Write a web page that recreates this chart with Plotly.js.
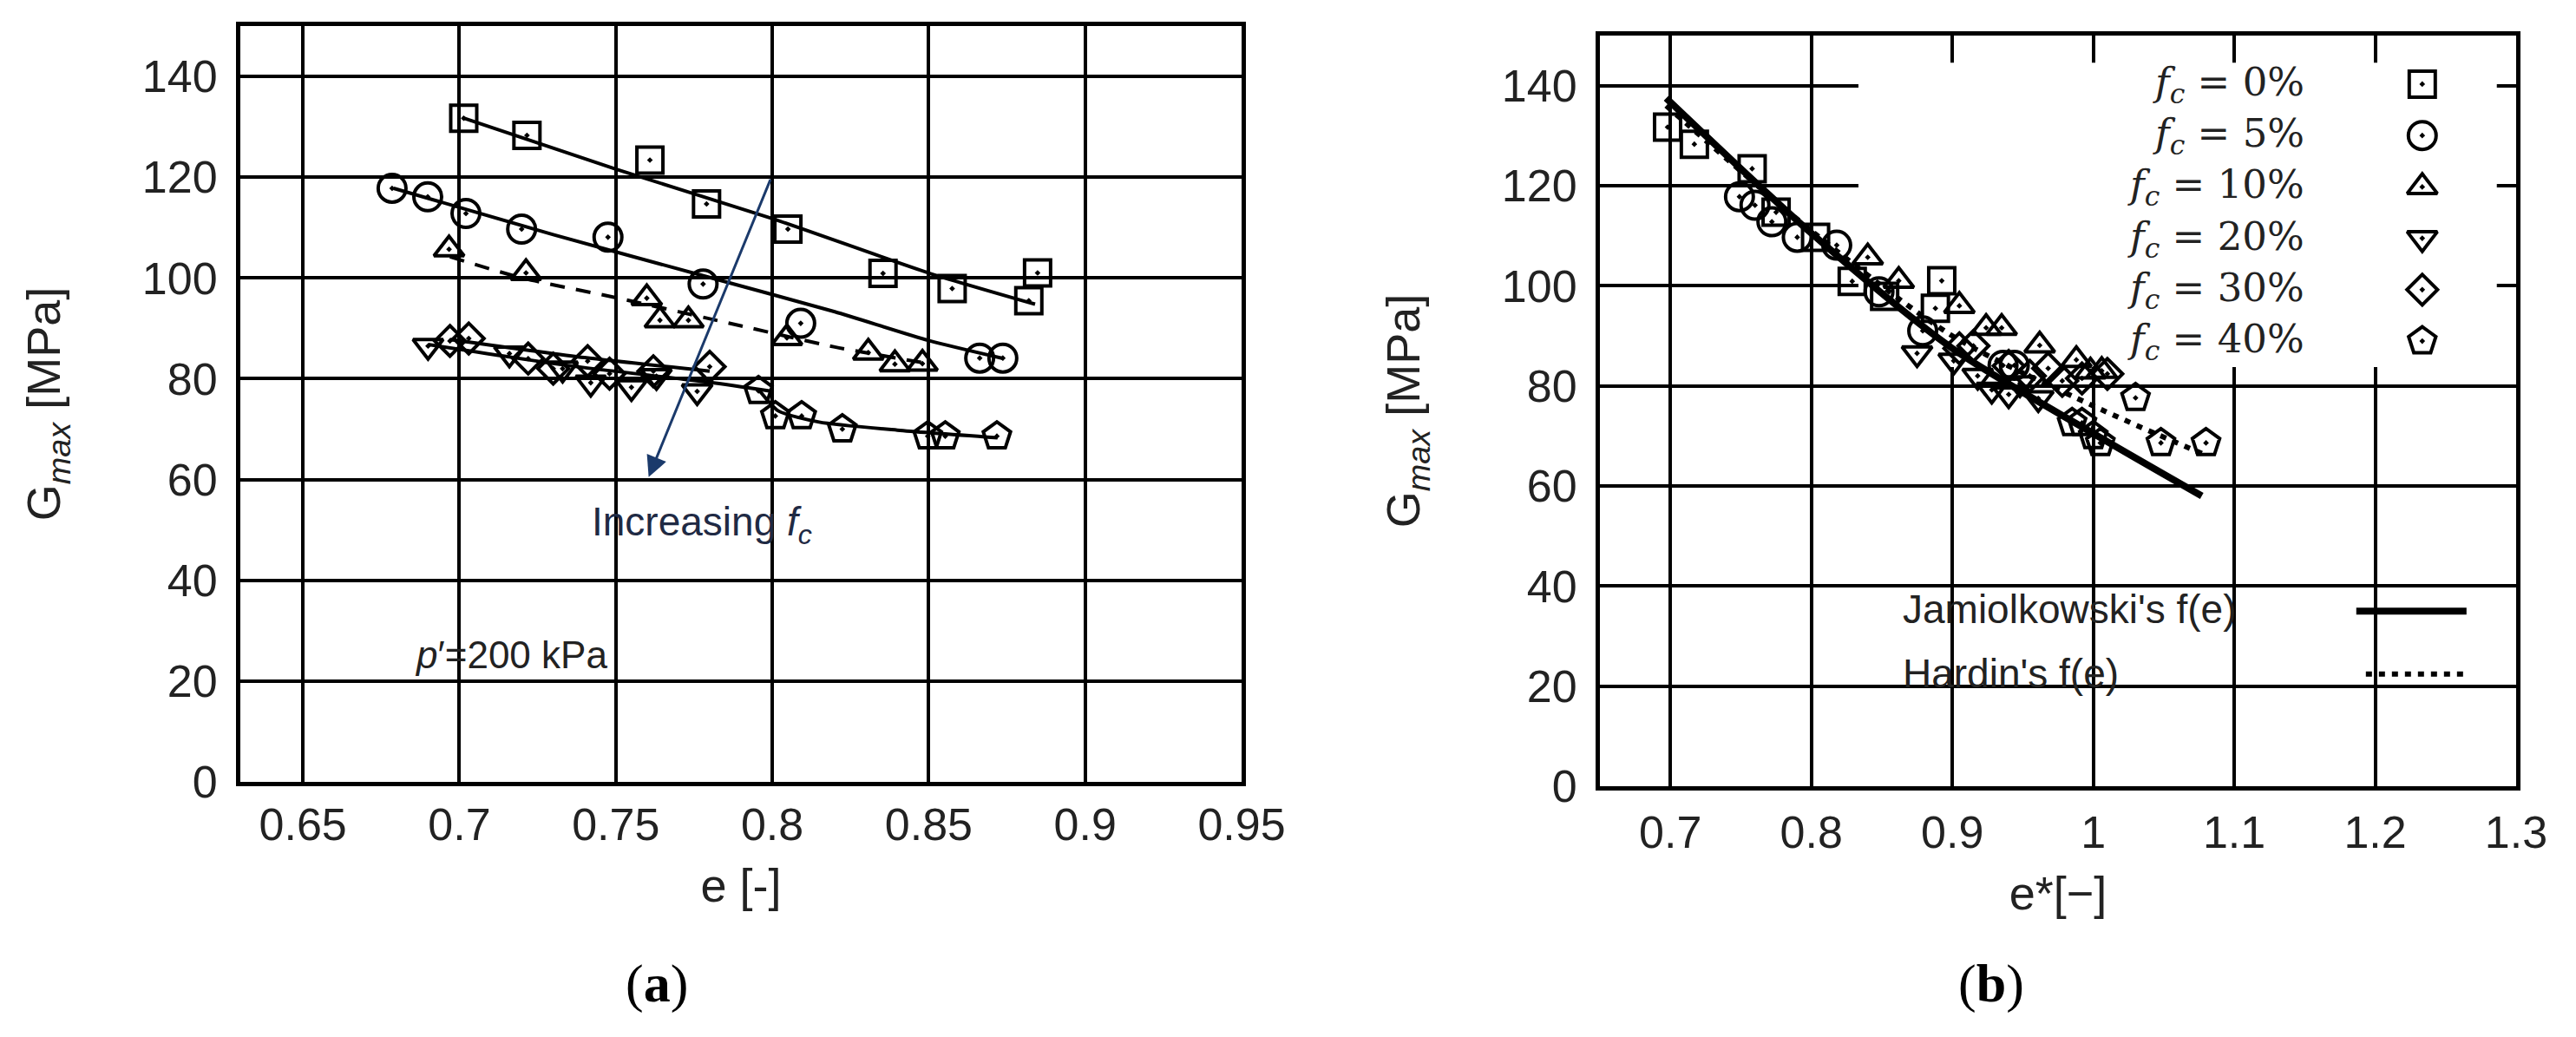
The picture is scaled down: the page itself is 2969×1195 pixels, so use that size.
<!DOCTYPE html>
<html><head><meta charset="utf-8">
<script src="https://cdn.plot.ly/plotly-3.0.1.min.js"></script>
<style>html,body{margin:0;padding:0;background:#fff}#chart{width:2969px;height:1195px}</style>
</head><body><div id="chart"></div><script>
// ---------------- data: panel (a)  Gmax vs e ----------------
const fc0_e  = [0.7014, 0.7216, 0.7609, 0.7790, 0.8050, 0.8354, 0.8575, 0.8848, 0.8820];
const fc0_G  = [131.7, 128.3, 123.4, 114.7, 109.7, 100.9, 97.9, 101.0, 95.5];
const fc5_e  = [0.6785, 0.6899, 0.7021, 0.7199, 0.7475, 0.7779, 0.8091, 0.8663, 0.8737];
const fc5_G  = [117.8, 116.1, 112.8, 109.7, 108.1, 98.8, 91.0, 84.1, 84.1];
const fc10_e = [0.6967, 0.7213, 0.7599, 0.7641, 0.7732, 0.8047, 0.8307, 0.8392, 0.8480];
const fc10_G = [105.7, 101.0, 96.0, 91.6, 91.6, 88.1, 85.2, 82.9, 83.0];
const fc20_e = [0.6900, 0.7160, 0.7330, 0.7420, 0.7550, 0.7630, 0.7760];
const fc20_G = [86.5, 85.0, 82.0, 79.2, 78.3, 80.5, 77.5];
const fc30_e = [0.6970, 0.7030, 0.7220, 0.7300, 0.7410, 0.7480, 0.7620, 0.7800];
const fc30_G = [87.5, 88.0, 84.0, 82.0, 83.5, 81.0, 81.5, 82.4];
const fc40_e = [0.7956, 0.8010, 0.8094, 0.8224, 0.8497, 0.8553, 0.8718];
const fc40_G = [77.6, 72.6, 72.6, 70.0, 68.6, 68.6, 68.6];

// fitted trend lines, panel (a)
const fit0_e  = [0.701, 0.750, 0.800, 0.850, 0.884];
const fit0_G  = [131.8, 121.6, 111.8, 101.0, 94.8];
const fit5_e  = [0.679, 0.730, 0.780, 0.820, 0.850, 0.874];
const fit5_G  = [117.8, 108.6, 100.1, 93.3, 87.6, 84.0];
const fit10_e = [0.697, 0.720, 0.750, 0.790, 0.820, 0.850];
const fit10_G = [104.2, 100.0, 96.1, 90.5, 86.3, 83.0];
const fit20_e = [0.690, 0.735, 0.780, 0.800];
const fit20_G = [86.8, 82.6, 79.3, 77.5];
const fit30_e = [0.697, 0.740, 0.780];
const fit30_G = [87.8, 84.2, 81.5];
const fit40_e = [0.796, 0.802, 0.815, 0.840, 0.872];
const fit40_G = [77.6, 73.6, 71.4, 69.8, 68.3];

// ---------------- data: panel (b)  Gmax vs e* ----------------
const fc0_es  = [0.698, 0.717, 0.758, 0.775, 0.803, 0.829, 0.852, 0.8925, 0.888];
const fc5_es  = [0.749, 0.760, 0.772, 0.790, 0.818, 0.848, 0.879, 0.936, 0.944];
const fc10_es = [0.840, 0.862, 0.905, 0.924, 0.935, 0.962, 0.988, 0.998, 1.006];
const fc20_es = [0.875, 0.901, 0.918, 0.928, 0.940, 0.948, 0.961];
const fc30_es = [0.905, 0.915, 0.940, 0.955, 0.968, 0.978, 0.992, 1.010];
const fc40_es = [1.030, 0.985, 0.992, 1.000, 1.005, 1.048, 1.080];

const jam_es = [0.697, 0.800, 0.900, 1.000, 1.077];
const jam_G  = [137.5, 110.5, 87.5, 70.5, 58.0];
const har_es = [0.697, 0.800, 0.900, 1.000, 1.077];
const har_G  = [136.0, 111.0, 90.0, 76.0, 66.5];

// tick labels / legend labels
const legendLabels = ['0%', '5%', '10%', '20%', '30%', '40%'];
const symbols = ['square-open-dot', 'circle-open-dot', 'triangle-up-open-dot',
                 'triangle-down-open-dot', 'diamond-open-dot', 'pentagon-open-dot'];
const symSizes = [30, 32, 30, 30, 27, 33];

// ---------------- styling ----------------
const SANS = 'Liberation Sans, Arial, sans-serif';
const SERIF = 'DejaVu Serif, Liberation Serif, serif';
const TSERIF = 'Liberation Serif, Times New Roman, serif';
const TXT = '#222222';
const W = 2969, H = 1195;

const seriesA = [[fc0_e, fc0_G], [fc5_e, fc5_G], [fc10_e, fc10_G], [fc20_e, fc20_G], [fc30_e, fc30_G], [fc40_e, fc40_G]];
const seriesB = [[fc0_es, fc0_G], [fc5_es, fc5_G], [fc10_es, fc10_G], [fc20_es, fc20_G], [fc30_es, fc30_G], [fc40_es, fc40_G]];
const fitsA = [[fit0_e, fit0_G, 'solid'], [fit5_e, fit5_G, 'solid'], [fit10_e, fit10_G, '17px,13px'],
               [fit20_e, fit20_G, 'solid'], [fit30_e, fit30_G, 'solid'], [fit40_e, fit40_G, 'solid']];

const traces = [];
fitsA.forEach(f => traces.push({
  type: 'scatter', mode: 'lines', x: f[0], y: f[1], xaxis: 'x', yaxis: 'y',
  line: {color: '#000', width: 4, dash: f[2], shape: 'spline', smoothing: 0.6},
  hoverinfo: 'skip', showlegend: false
}));
seriesA.forEach((s, i) => traces.push({
  type: 'scatter', mode: 'markers', x: s[0], y: s[1], xaxis: 'x', yaxis: 'y',
  name: 'fc = ' + legendLabels[i],
  marker: {symbol: symbols[i], size: symSizes[i], color: '#000', line: {color: '#000', width: 4}},
  showlegend: false
}));
// panel (b) fit curves
traces.push({type: 'scatter', mode: 'lines', x: jam_es, y: jam_G, xaxis: 'x2', yaxis: 'y2',
  line: {color: '#000', width: 8, shape: 'spline', smoothing: 0.8}, showlegend: false, hoverinfo: 'skip'});
traces.push({type: 'scatter', mode: 'lines', x: har_es, y: har_G, xaxis: 'x2', yaxis: 'y2',
  line: {color: '#000', width: 6, dash: '7px,8px', shape: 'spline', smoothing: 0.8}, showlegend: false, hoverinfo: 'skip'});
seriesB.forEach((s, i) => traces.push({
  type: 'scatter', mode: 'markers', x: s[0], y: s[1], xaxis: 'x2', yaxis: 'y2',
  name: 'fc = ' + legendLabels[i],
  marker: {symbol: symbols[i], size: symSizes[i], color: '#000', line: {color: '#000', width: 4}},
  showlegend: false
}));

// manual key for panel (b)
const KEY_SYM_X = 1.2334, KEY_TXT_X = 1.151, KEY_TOP = 140.3, KEY_STEP = 10.27;
const keyY = legendLabels.map((_, i) => KEY_TOP - i * KEY_STEP);
legendLabels.forEach((lab, i) => traces.push({
  type: 'scatter', mode: 'markers', x: [KEY_SYM_X], y: [keyY[i]], xaxis: 'x2', yaxis: 'y2',
  marker: {symbol: symbols[i], size: symSizes[i], color: '#000', line: {color: '#000', width: 4}},
  showlegend: false, hoverinfo: 'skip'
}));

function axisBase(extra) {
  return Object.assign({
    showgrid: true, gridcolor: '#000', gridwidth: 4,
    showline: true, linecolor: '#000', linewidth: 5, mirror: true,
    ticks: '', zeroline: false,
    tickfont: {family: SANS, size: 52, color: TXT}
  }, extra);
}

const annotations = [];
legendLabels.forEach((lab, i) => annotations.push({
  xref: 'x2', yref: 'y2', x: KEY_TXT_X, y: keyY[i], xanchor: 'right', yanchor: 'middle',
  text: '<i>f</i><sub><i>c</i></sub> = ' + lab, showarrow: false,
  font: {family: SERIF, size: 45, color: TXT}
}));
annotations.push(
  {xref: 'x2', yref: 'y2', x: 0.8635, y: 35.4, xanchor: 'left', yanchor: 'middle', showarrow: false,
   text: "Jamiolkowski's f(e)", font: {family: SANS, size: 46, color: TXT}},
  {xref: 'x2', yref: 'y2', x: 0.8635, y: 22.6, xanchor: 'left', yanchor: 'middle', showarrow: false,
   text: "Hardin's f(e)", font: {family: SANS, size: 46, color: TXT}},
  {xref: 'x', yref: 'y', x: 0.7774, y: 51.0, xanchor: 'center', yanchor: 'middle', showarrow: false,
   text: 'Increasing <i>f</i><sub><i>c</i></sub>', font: {family: SANS, size: 46, color: '#1f2a44'}},
  {xref: 'x', yref: 'y', x: 0.6851, y: 25.2, xanchor: 'left', yanchor: 'middle', showarrow: false,
   text: '<i>p</i>\u2032=200 kPa', font: {family: SANS, size: 44, color: TXT}},
  {xref: 'x', yref: 'y', axref: 'x', ayref: 'y', x: 0.7605, y: 60.5, ax: 0.7996, ay: 119.8,
   text: '', showarrow: true, arrowhead: 2, arrowsize: 1.6, arrowwidth: 3, arrowcolor: '#1b3a6b'},
  {xref: 'paper', yref: 'paper', x: 757 / W, y: 1 - 1133 / H, xanchor: 'center', yanchor: 'middle', showarrow: false,
   text: '(<b>a</b>)', font: {family: TSERIF, size: 62, color: '#000'}},
  {xref: 'paper', yref: 'paper', x: 2295 / W, y: 1 - 1133 / H, xanchor: 'center', yanchor: 'middle', showarrow: false,
   text: '(<b>b</b>)', font: {family: TSERIF, size: 62, color: '#000'}}
);

const shapes = [
  // opaque key box of panel (b)
  {type: 'rect', xref: 'x2', yref: 'y2', x0: 0.8334, x1: 1.2863, y0: 83.75, y1: 144.6,
   fillcolor: '#fff', line: {width: 0}, layer: 'between'},
  // key line samples
  {type: 'line', xref: 'x2', yref: 'y2', x0: 1.1866, x1: 1.2648, y0: 35.0, y1: 35.0,
   line: {color: '#000', width: 8}},
  {type: 'line', xref: 'x2', yref: 'y2', x0: 1.1934, x1: 1.2672, y0: 22.4, y1: 22.4,
   line: {color: '#000', width: 6, dash: '7px,8px'}}
];

const layout = {
  width: W, height: H, margin: {l: 0, r: 0, t: 0, b: 0},
  paper_bgcolor: '#fff', plot_bgcolor: '#fff', showlegend: false,
  xaxis: axisBase({domain: [277 / W, 1431 / W], range: [0.63, 0.95], tick0: 0.65, dtick: 0.05, anchor: 'y',
    title: {text: 'e [-]', font: {family: SANS, size: 54, color: TXT}, standoff: 24}}),
  yaxis: axisBase({domain: [1 - 901 / H, 1 - 30 / H], range: [0, 150], tick0: 0, dtick: 20, anchor: 'x',
    ticklabelstandoff: 11,
    title: {text: 'G<sub><i>max</i></sub> [MPa]', font: {family: SANS, size: 54, color: TXT}, standoff: 78}}),
  xaxis2: axisBase({domain: [1844 / W, 2900 / W], range: [0.65, 1.3], tick0: 0.7, dtick: 0.1, anchor: 'y2',
    ticklabelstandoff: 4,
    title: {text: 'e*[\u2212]', font: {family: SANS, size: 54, color: TXT}, standoff: 24}}),
  yaxis2: axisBase({domain: [1 - 906 / H, 1 - 41 / H], range: [0, 150], tick0: 0, dtick: 20, anchor: 'x2',
    ticklabelstandoff: 11,
    title: {text: 'G<sub><i>max</i></sub> [MPa]', font: {family: SANS, size: 54, color: TXT}, standoff: 78}}),
  annotations: annotations,
  shapes: shapes
};

Plotly.newPlot('chart', traces, layout, {staticPlot: true, displayModeBar: false});
</script></body></html>
